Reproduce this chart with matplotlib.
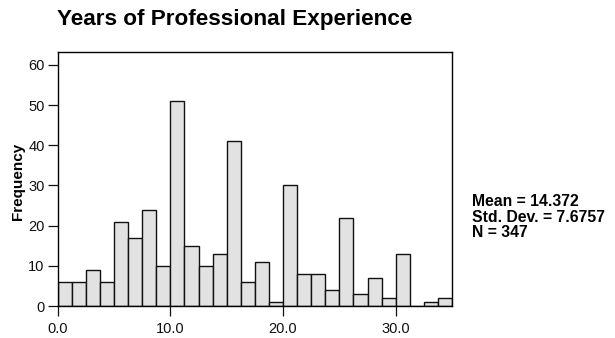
import matplotlib
matplotlib.use("Agg")
import matplotlib.pyplot as plt
import numpy as np

# histogram bins (width 1.25 years) and counts
bin_edges = np.arange(0, 35.01, 1.25)
counts = [6, 6, 9, 6, 21, 17, 24, 10, 51, 15, 10, 13, 41, 6,
          11, 1, 30, 8, 8, 4, 22, 3, 7, 2, 13, 0, 1, 2]
x_ticks = [0, 10, 20, 30]
x_labels = ["0.0", "10.0", "20.0", "30.0"]
y_ticks = [0, 10, 20, 30, 40, 50, 60]
stats = "Mean = 14.372\nStd. Dev. = 7.6757\nN = 347"

plt.rcParams["font.family"] = ["Liberation Sans", "DejaVu Sans"]

fig = plt.figure(figsize=(6.15, 3.38), dpi=100)
ax = fig.add_axes([57.7 / 615, 1 - 306 / 338, (452 - 57.7) / 615, (306 - 52) / 338])

ax.bar(bin_edges[:-1], counts, width=np.diff(bin_edges), align="edge",
       color="#e2e2e2", edgecolor="#111111", linewidth=1.0)

ax.set_xlim(0, 35)
ax.set_ylim(0, 63.2)
ax.set_xticks(x_ticks)
ax.set_xticklabels(x_labels)
ax.set_yticks(y_ticks)
ax.tick_params(direction="out", length=7.5, width=0.9, labelsize=10.5, colors="#111111")
ax.tick_params(axis="y", pad=2)
ax.tick_params(axis="x", pad=4)
for s in ax.spines.values():
    s.set_linewidth(1.0)

ax.set_ylabel("Frequency", fontsize=11, fontweight="bold", labelpad=0)
ax.yaxis.set_label_coords(-0.082, 0.49)
fig.text(235 / 615, 1 - 20 / 338, "Years of Professional Experience",
         ha="center", va="center", fontsize=16.2, fontweight="bold")
fig.text(472 / 615, 1 - 217 / 338, stats, ha="left", va="center",
         fontsize=11.3, fontweight="bold", linespacing=1.05)

fig.savefig("out.png", dpi=100)
